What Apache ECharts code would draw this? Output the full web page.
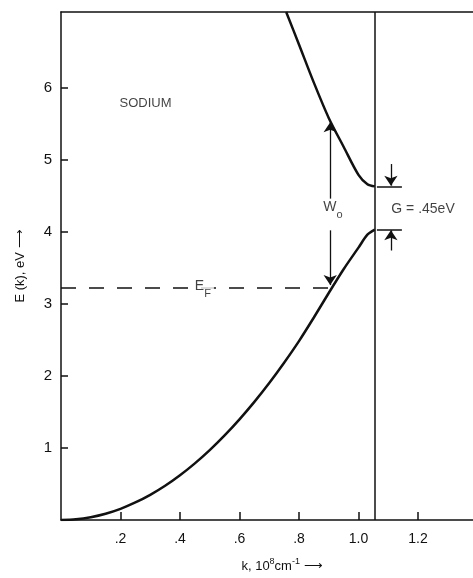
<!DOCTYPE html>
<html>
<head>
<meta charset="utf-8">
<script src="https://cdn.jsdelivr.net/npm/echarts@6/dist/echarts.min.js"></script>
<style>
html,body{margin:0;padding:0;background:#fff;}
#c{width:473px;height:578px;}
</style>
</head>
<body>
<div id="c"></div>
<script>
// ---- data ----
const kTicks = [0.2, 0.4, 0.6, 0.8, 1.0, 1.2];
const kTickLabels = ['.2', '.4', '.6', '.8', '1.0', '1.2'];
const eTicks = [1, 2, 3, 4, 5, 6];
const eTickLabels = ['1', '2', '3', '4', '5', '6'];

const kLower = [0, 0.05, 0.1, 0.15, 0.2, 0.25, 0.3, 0.35, 0.4, 0.45, 0.5, 0.55, 0.6, 0.65, 0.7, 0.75, 0.8, 0.85, 0.9, 0.95, 1.0, 1.03, 1.055];
const eLower = [0, 0.01, 0.039, 0.087, 0.155, 0.243, 0.349, 0.475, 0.621, 0.786, 0.97, 1.174, 1.397, 1.639, 1.901, 2.183, 2.483, 2.81, 3.15, 3.48, 3.78, 3.96, 4.03];

const kUpper = [0.757, 0.8, 0.85, 0.9, 0.95, 1.0, 1.03, 1.055];
const eUpper = [7.05, 6.60, 6.07, 5.58, 5.18, 4.79, 4.66, 4.63];

const zoneK = 1.055;       // zone boundary
const fermiE = 3.23;       // Fermi energy
const fermiK = 0.91;       // Fermi wave vector
const gapTop = 4.63;
const gapBottom = 4.03;

const kRange = [0, 1.385];
const eRange = [0, 7.05];

// ---- chart ----
const FONT = 'Liberation Sans';
const chart = echarts.init(document.getElementById('c'), null, {renderer: 'canvas'});

const pairs = (xs, ys) => xs.map((x, i) => [x, ys[i]]);
const black = '#111';

const solid = {color: black, width: 1.5, type: 'solid'};

const option = {
  animation: false,
  backgroundColor: '#fff',
  grid: {left: 61, top: 12, right: 0, bottom: 54, containLabel: false},
  xAxis: [{
    type: 'value', min: kRange[0], max: kRange[1],
    position: 'bottom',
    name: '{a|k, 10}{s|8}{a|cm}{s|-1}{a| \u27F6}',
    nameLocation: 'middle', nameGap: 37,
    nameTextStyle: {padding: [0, 0, 0, 30],
      rich: {
        a: {fontFamily: FONT, fontSize: 13, color: black, lineHeight: 16, verticalAlign: 'bottom'},
        s: {fontFamily: FONT, fontSize: 9, color: black, lineHeight: 16, verticalAlign: 'top'}
      }},
    axisLine: {show: true, onZero: false, lineStyle: {color: black, width: 1.5}},
    axisTick: {show: true, inside: true, length: 8, customValues: kTicks, lineStyle: {color: black, width: 1.5}},
    axisLabel: {show: true, customValues: kTicks, margin: 12,
      formatter: v => { const i = kTicks.findIndex(t => Math.abs(t - v) < 1e-6); return i >= 0 ? kTickLabels[i] : ''; },
      fontFamily: FONT, fontSize: 14, color: black},
    splitLine: {show: false}
  }, {
    type: 'value', min: kRange[0], max: kRange[1], position: 'top',
    axisLine: {show: true, onZero: false, lineStyle: {color: black, width: 1.5}},
    axisTick: {show: false}, axisLabel: {show: false}, splitLine: {show: false}
  }],
  yAxis: {
    type: 'value', min: eRange[0], max: eRange[1],
    name: 'E (k), eV \u27F6',
    nameLocation: 'middle', nameRotate: 90, nameGap: 34,
    nameTextStyle: {fontFamily: FONT, fontSize: 13, color: black},
    axisLine: {show: true, onZero: false, lineStyle: {color: black, width: 1.5}},
    axisTick: {show: true, inside: true, length: 7, customValues: eTicks, lineStyle: {color: black, width: 1.5}},
    axisLabel: {show: true, customValues: eTicks, margin: 9,
      formatter: v => { const i = eTicks.findIndex(t => Math.abs(t - v) < 1e-6); return i >= 0 ? eTickLabels[i] : ''; },
      fontFamily: FONT, fontSize: 15, color: black},
    splitLine: {show: false}
  },
  series: [
    {
      name: 'lower band', type: 'line', data: pairs(kLower, eLower),
      smooth: 0.3, symbol: 'none', clip: true,
      lineStyle: {color: black, width: 2.5},
      z: 5,
      markLine: {
        silent: true, symbol: 'none', label: {show: false},
        emphasis: {disabled: true},
        lineStyle: solid,
        data: [
          [{xAxis: zoneK, yAxis: eRange[0]}, {xAxis: zoneK, yAxis: eRange[1]}],
          [{coord: [0, fermiE], lineStyle: {color: black, width: 1.5, type: [15, 13]}}, {coord: [fermiK, fermiE]}],
          [{coord: [1.062, gapTop]}, {coord: [1.146, gapTop]}],
          [{coord: [1.062, gapBottom]}, {coord: [1.146, gapBottom]}]
        ]
      }
    },
    {
      name: 'upper band', type: 'line', data: pairs(kUpper, eUpper),
      smooth: 0.3, symbol: 'none', clip: true,
      lineStyle: {color: black, width: 2.5},
      z: 5,
      markLine: {
        silent: true, symbol: ['none', 'arrow'], symbolSize: 10,
        label: {show: false}, emphasis: {disabled: true},
        lineStyle: {color: black, width: 1.3, type: 'solid'},
        itemStyle: {color: black},
        data: [
          [{coord: [0.905, 4.46]}, {coord: [0.905, 5.52]}],
          [{coord: [0.905, 4.02]}, {coord: [0.905, 3.26]}],
          [{coord: [1.109, 4.94]}, {coord: [1.109, gapTop + 0.01]}],
          [{coord: [1.109, 3.74]}, {coord: [1.109, gapBottom - 0.01]}]
        ]
      }
    },
    {
      name: 'annotations', type: 'scatter', symbolSize: 0, silent: true, z: 6,
      data: [
        {value: [0.284, 5.78], label: {formatter: 'SODIUM', fontSize: 13}},
        {value: [0.477, 3.20], label: {formatter: '{e|E}{f|F}', backgroundColor: '#fff', padding: [0, 3, 0, 3],
          rich: {e: {fontFamily: FONT, fontSize: 14, color: black, lineHeight: 20, verticalAlign: 'top'},
                 f: {fontFamily: FONT, fontSize: 11, color: black, lineHeight: 20, verticalAlign: 'bottom'}}}},
        {value: [0.914, 4.30], label: {formatter: '{e|W}{f|o}',
          rich: {e: {fontFamily: FONT, fontSize: 14, color: black, lineHeight: 20, verticalAlign: 'top'},
                 f: {fontFamily: FONT, fontSize: 11, color: black, lineHeight: 20, verticalAlign: 'bottom'}}}},
        {value: [1.217, 4.32], label: {formatter: 'G = .45eV', fontSize: 14}}
      ],
      label: {show: true, position: 'inside', align: 'center', verticalAlign: 'middle',
        fontFamily: FONT, color: black}
    }
  ]
};
chart.setOption(option);
</script>
</body>
</html>
